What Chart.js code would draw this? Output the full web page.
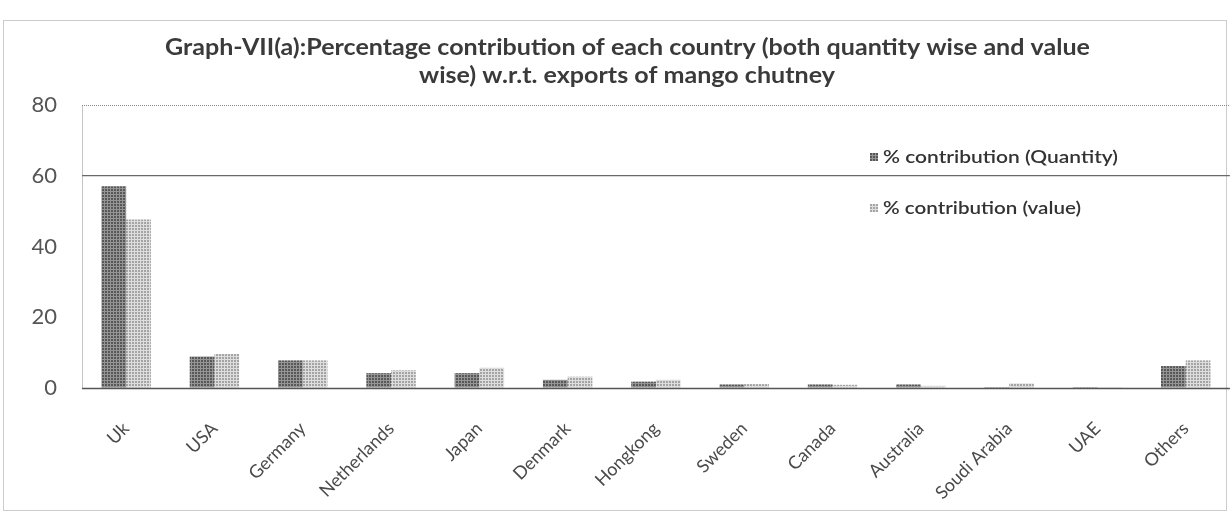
<!DOCTYPE html>
<html>
<head>
<meta charset="utf-8">
<script src="https://cdn.jsdelivr.net/npm/chart.js@4.4.1/dist/chart.umd.min.js"></script>
<style>
  html, body { margin: 0; padding: 0; background: #ffffff; }
  #wrap { width: 1231px; height: 516px; position: relative; }
</style>
</head>
<body>
<div id="wrap"><canvas id="c" width="1231" height="516"></canvas></div>
<script>
const titleLines = ['Graph-VII(a):Percentage contribution of each country (both quantity wise and value', 'wise) w.r.t. exports of mango chutney'];
const categories = ['Uk', 'USA', 'Germany', 'Netherlands', 'Japan', 'Denmark', 'Hongkong', 'Sweden', 'Canada', 'Australia', 'Soudi Arabia', 'UAE', 'Others'];
const quantityShare = [57, 8.9, 7.8, 4.2, 4.2, 2.3, 1.8, 1.0, 1.0, 1.0, 0.05, 0.05, 6.2];
const valueShare = [47.6, 9.6, 7.8, 5.0, 5.7, 3.2, 2.3, 1.1, 0.9, 0.6, 1.3, 0.1, 7.8];
const seriesNames = ['% contribution (Quantity)', '% contribution (value)'];
const yTicks = [0, 20, 40, 60, 80];

function dotPattern(base, dot) {
  const p = document.createElement('canvas');
  p.width = 3; p.height = 3;
  const g = p.getContext('2d');
  g.fillStyle = base; g.fillRect(0, 0, 3, 3);
  g.fillStyle = dot; g.fillRect(0, 0, 2, 2);
  return g.createPattern(p, 'repeat');
}
const ctx = document.getElementById('c').getContext('2d');
const darkFill = dotPattern('#959595', '#585858');
const lightFill = dotPattern('#dedede', '#a4a4a4');

function fitText(c, text, x, y, width) {
  const w = c.measureText(text).width;
  c.save();
  c.translate(x, y);
  c.scale(width / w, 1);
  c.fillText(text, 0, 0);
  c.restore();
}

const decor = {
  id: 'decor',
  beforeDraw(chart) {
    const c = chart.ctx, a = chart.chartArea;
    c.save();
    c.fillStyle = '#fff';
    c.fillRect(0, 0, chart.width, chart.height);
    c.strokeStyle = '#999';
    c.lineWidth = 1;
    c.setLineDash([1, 1]);
    c.strokeRect(3.5, 20.5, chart.width - 8, chart.height - 26);
    c.strokeStyle = '#888';
    c.beginPath();
    c.moveTo(a.left + 0.5, a.top + 0.5); c.lineTo(a.left + 0.5, a.bottom);
    c.moveTo(a.left, a.top + 0.5); c.lineTo(a.right, a.top + 0.5);
    c.stroke();
    c.restore();
  },
  afterDraw(chart) {
    const c = chart.ctx, a = chart.chartArea;
    c.save();
    c.strokeStyle = '#555';
    c.lineWidth = 1.5;
    c.beginPath();
    c.moveTo(a.left, a.bottom + 0.5); c.lineTo(a.right, a.bottom + 0.5);
    c.stroke();
    // title
    c.fillStyle = '#3a3a3a';
    c.font = 'bold 23px Lato';
    c.textAlign = 'left';
    c.textBaseline = 'middle';
    fitText(c, titleLines[0], 165, 48, 925);
    const w2 = c.measureText(titleLines[1]).width * (925 / c.measureText(titleLines[0]).width);
    fitText(c, titleLines[1], 627 - w2 / 2, 76, w2);
    // legend
    const items = chart.data.datasets;
    const ys = [157, 208];
    c.font = '600 18px Lato';
    const fitW = [235, 198];
    items.forEach((ds, i) => {
      c.fillStyle = ds.backgroundColor;
      c.fillRect(870, ys[i] - 4, 8, 8);
      c.fillStyle = '#333';
      fitText(c, ds.label, 883, ys[i], fitW[i]);
    });
    c.restore();
  }
};

new Chart(ctx, {
  type: 'bar',
  data: {
    labels: categories,
    datasets: [
      { label: seriesNames[0], data: quantityShare, backgroundColor: darkFill, borderWidth: 0 },
      { label: seriesNames[1], data: valueShare, backgroundColor: lightFill, borderWidth: 0 }
    ]
  },
  options: {
    responsive: false,
    animation: false,
    devicePixelRatio: 1,
    layout: { padding: { top: 105, right: -12, bottom: 0, left: 0 } },
    plugins: { legend: { display: false }, title: { display: false }, tooltip: { enabled: false } },
    datasets: { bar: { categoryPercentage: 0.56, barPercentage: 1.0 } },
    scales: {
      x: {
        grid: { display: false, drawTicks: false },
        border: { display: false },
        ticks: {
          color: '#4a4a4a', font: { family: 'Lato', size: 18 },
          minRotation: 45, maxRotation: 45, padding: 30, autoSkip: false
        },
        afterFit(s) { s.height = 128; }
      },
      y: {
        min: 0, max: 80,
        afterBuildTicks(s) { s.ticks = yTicks.map(v => ({ value: v })); },
        grid: {
          drawTicks: false,
          color: (c) => (c.tick && c.tick.value === 60) ? '#6a6a6a' : 'rgba(0,0,0,0)',
          lineWidth: 1.2
        },
        border: { display: false },
        ticks: { color: '#555', font: { family: 'Lato', size: 22 }, padding: 25 },
        afterFit(s) { s.width = 82; }
      }
    }
  },
  plugins: [decor]
});
</script>
</body>
</html>
